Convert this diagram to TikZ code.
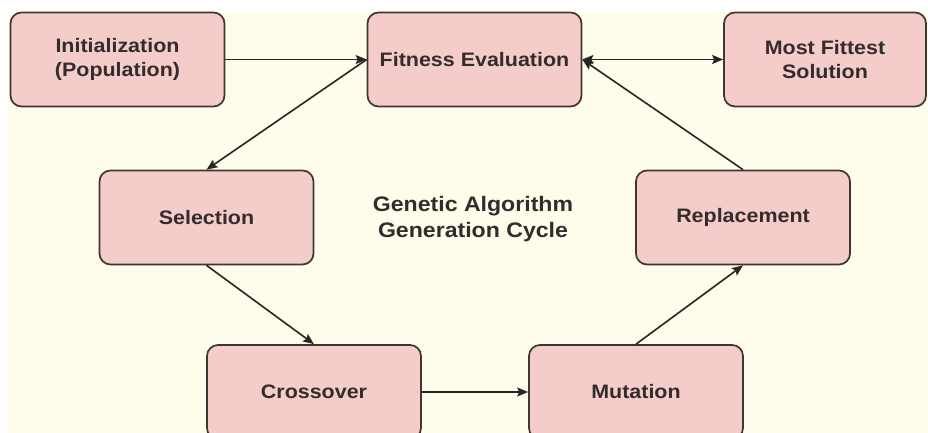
\documentclass[tikz,border=0pt]{standalone}
\usepackage{fontspec}
\setmainfont[FakeStretch=1.1]{Liberation Sans}
\usetikzlibrary{arrows.meta}
\definecolor{fondcreme}{RGB}{254,252,234}
\definecolor{roseboite}{RGB}{244,204,202}
\definecolor{bordgris}{RGB}{64,52,52}
\definecolor{textegris}{RGB}{52,44,44}
\tikzset{
  >={Stealth[length=11pt,width=9pt,inset=2pt]},
  etape/.style={draw=bordgris, fill=roseboite, line width=1.7pt, rounded corners=11pt,
    align=center, font=\fontsize{19.5}{24}\selectfont\bfseries, text=textegris,
    minimum width=214pt, minimum height=94pt, inner sep=0pt},
  fleche/.style={->, line width=1.6pt, draw=black!85},
  titre/.style={align=center, font=\fontsize{21}{26}\selectfont\bfseries, text=textegris},
}

\begin{document}
\begin{tikzpicture}[x=1pt,y=-1pt]
  \useasboundingbox (0,0) rectangle (928,433);
  \clip (0,0) rectangle (928,433);
  \fill[fondcreme] (7,12) rectangle (928,433);
  % top row
  \node[etape] (init) at (117.5,59.5) {Initialization\\(Population)};
  \node[etape] (fitness) at (474.5,59.5) {Fitness Evaluation};
  \node[etape, minimum width=202pt] (best) at (825,59.5) {Most Fittest\\Solution};
  % middle row
  \node[etape] (selection) at (206.5,217.5) {Selection};
  \node[etape] (replacement) at (743,217.5) {Replacement};
  \node[titre] (title) at (473,219) {Genetic Algorithm\\Generation Cycle};
  % bottom row (cut by the frame)
  \node[etape] (crossover) at (314,392) {Crossover};
  \node[etape] (mutation) at (636,392) {Mutation};
  % connectors
  \draw[fleche] (init) -- (fitness);
  \draw[fleche, <->] (fitness) -- (best);
  \draw[fleche] (fitness.west) -- (selection.north);
  \draw[fleche] (selection.south) -- (crossover.north);
  \draw[fleche] (crossover) -- (mutation);
  \draw[fleche] (mutation.north) -- (replacement.south);
  \draw[fleche] (replacement.north) -- (fitness.east);
\end{tikzpicture}
\end{document}
